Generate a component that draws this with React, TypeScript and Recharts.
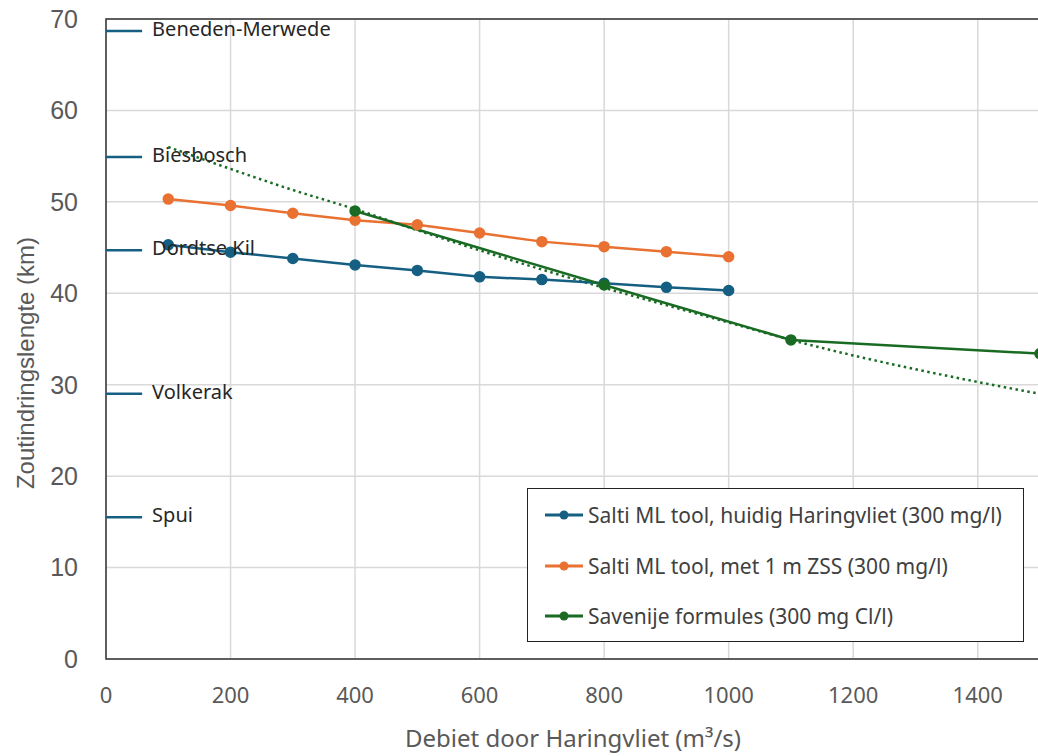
import React from "react";
import {
  LineChart,
  Line,
  XAxis,
  YAxis,
  CartesianGrid,
  ReferenceLine,
  ReferenceArea,
  Legend,
} from "recharts";

const xTicks = [0, 200, 400, 600, 800, 1000, 1200, 1400];
const yTicks = [0, 10, 20, 30, 40, 50, 60, 70];

const debiet = [100, 200, 300, 400, 500, 600, 700, 800, 900, 1000];
const huidig = [45.3, 44.5, 43.8, 43.1, 42.5, 41.8, 41.5, 41.1, 40.65, 40.3];
const metZss = [50.3, 49.6, 48.75, 48.0, 47.5, 46.6, 45.65, 45.1, 44.55, 44.0];

const savenijeX = [400, 800, 1100, 1500];
const savenije = [49.0, 40.9, 34.9, 33.4];

// trendline
const trendX = [100, 200, 300, 400, 500, 600, 700, 800, 900, 1000, 1100, 1200, 1300, 1400, 1500];
const trend = [56.0, 53.6, 51.3, 49.2, 46.9, 44.7, 42.6, 40.6, 38.7, 36.8, 34.9, 33.2, 31.7, 30.3, 29.0];

const locNames = ["Beneden-Merwede", "Biesbosch", "Dordtse Kil", "Volkerak", "Spui"];
const locKm = [68.7, 54.9, 44.7, 29.0, 15.5];

const seriesNames = [
  "Salti ML tool, huidig Haringvliet (300 mg/l)",
  "Salti ML tool, met 1 m ZSS (300 mg/l)",
  "Savenije formules (300 mg Cl/l)",
];
const BLUE = "#156082";
const ORANGE = "#E97132";
const GREEN = "#196B24";
const seriesColors = [BLUE, ORANGE, GREEN];

const toRows = (xs: number[], ys: number[]) => xs.map((x, i) => ({ x, y: ys[i] }));

const huidigData = toRows(debiet, huidig);
const zssData = toRows(debiet, metZss);
const savenijeData = toRows(savenijeX, savenije);
const trendData = toRows(trendX, trend);

const uiFont = "'Noto Sans', 'Open Sans', sans-serif";
const tickFont = "'Liberation Sans', Arial, sans-serif";

function LegendBox() {
  return (
    <div
      style={{
        width: 497,
        height: 154,
        border: "1.5px solid #222",
        background: "#fff",
        boxSizing: "border-box",
        paddingTop: 1,
        fontFamily: uiFont,
        fontSize: 21,
        color: "#404040",
      }}
    >
      {seriesNames.map((name, i) => (
        <div key={name} style={{ display: "flex", alignItems: "center", height: 50.5, paddingLeft: 16 }}>
          <svg width={40} height={14} style={{ marginRight: 4 }}>
            <line x1={1} y1={7} x2={39} y2={7} stroke={seriesColors[i]} strokeWidth={3} />
            <circle cx={20} cy={7} r={4.5} fill={seriesColors[i]} />
          </svg>
          <span>{name}</span>
        </div>
      ))}
    </div>
  );
}

export default function App() {
  return (
    <div
      style={{
        position: "fixed",
        left: 0,
        top: 0,
        width: 1038,
        height: 756,
        overflow: "hidden",
        background: "#fff",
      }}
    >
      <LineChart width={1060} height={756} margin={{ top: 19, right: 20, left: 0, bottom: 0 }}>
        <CartesianGrid stroke="#d9d9d9" strokeWidth={1.5} />
        <XAxis
          type="number"
          dataKey="x"
          domain={[0, 1500]}
          ticks={xTicks}
          allowDataOverflow
          axisLine={false}
          tickLine={false}
          tickMargin={22}
          height={97}
          tick={{ fill: "#595959", fontSize: 22, fontFamily: uiFont }}
          label={{
            value: "Debiet door Haringvliet (m³/s)",
            position: "insideBottom",
            offset: 9,
            fill: "#595959",
            fontSize: 24,
            fontFamily: uiFont,
          }}
        />
        <YAxis
          type="number"
          domain={[0, 70]}
          ticks={yTicks}
          axisLine={false}
          tickLine={false}
          tickMargin={22}
          width={106}
          tick={{ fill: "#595959", fontSize: 25, fontFamily: tickFont }}
          label={{
            value: "Zoutindringslengte (km)",
            angle: -90,
            position: "center",
            dx: -28,
            dy: 24,
            fill: "#595959",
            fontSize: 24,
            fontFamily: tickFont,
          }}
        />
        <ReferenceArea
          x1={0}
          x2={1500}
          y1={0}
          y2={70}
          fill="none"
          stroke="#333"
          strokeWidth={1.5}
          ifOverflow="visible"
        />
        {locNames.map((name, i) => (
          <ReferenceLine
            key={name}
            segment={[
              { x: 0, y: locKm[i] },
              { x: 58, y: locKm[i] },
            ]}
            stroke={BLUE}
            strokeWidth={2.5}
            label={{
              value: name,
              position: "right",
              offset: 10,
              dy: -2,
              fill: "#262626",
              fontSize: 20,
              fontFamily: uiFont,
            }}
          />
        ))}
        <Line
          data={trendData}
          dataKey="y"
          type="monotone"
          stroke={GREEN}
          strokeWidth={2.5}
          strokeDasharray="2.5 3.5"
          dot={false}
          legendType="none"
          isAnimationActive={false}
        />
        <Line
          data={huidigData}
          dataKey="y"
          name={seriesNames[0]}
          stroke={BLUE}
          strokeWidth={2.5}
          dot={{ r: 5, fill: BLUE, stroke: BLUE, strokeWidth: 1.5 }}
          isAnimationActive={false}
        />
        <Line
          data={zssData}
          dataKey="y"
          name={seriesNames[1]}
          stroke={ORANGE}
          strokeWidth={2.5}
          dot={{ r: 5, fill: ORANGE, stroke: ORANGE, strokeWidth: 1.5 }}
          isAnimationActive={false}
        />
        <Line
          data={savenijeData}
          dataKey="y"
          name={seriesNames[2]}
          stroke={GREEN}
          strokeWidth={2.5}
          dot={{ r: 5, fill: GREEN, stroke: GREEN, strokeWidth: 1.5 }}
          isAnimationActive={false}
        />
        <Legend
          layout="vertical"
          align="center"
          verticalAlign="middle"
          content={() => <LegendBox />}
          wrapperStyle={{ left: 527, top: 488, width: 497, height: 154 }}
        />
      </LineChart>
    </div>
  );
}
